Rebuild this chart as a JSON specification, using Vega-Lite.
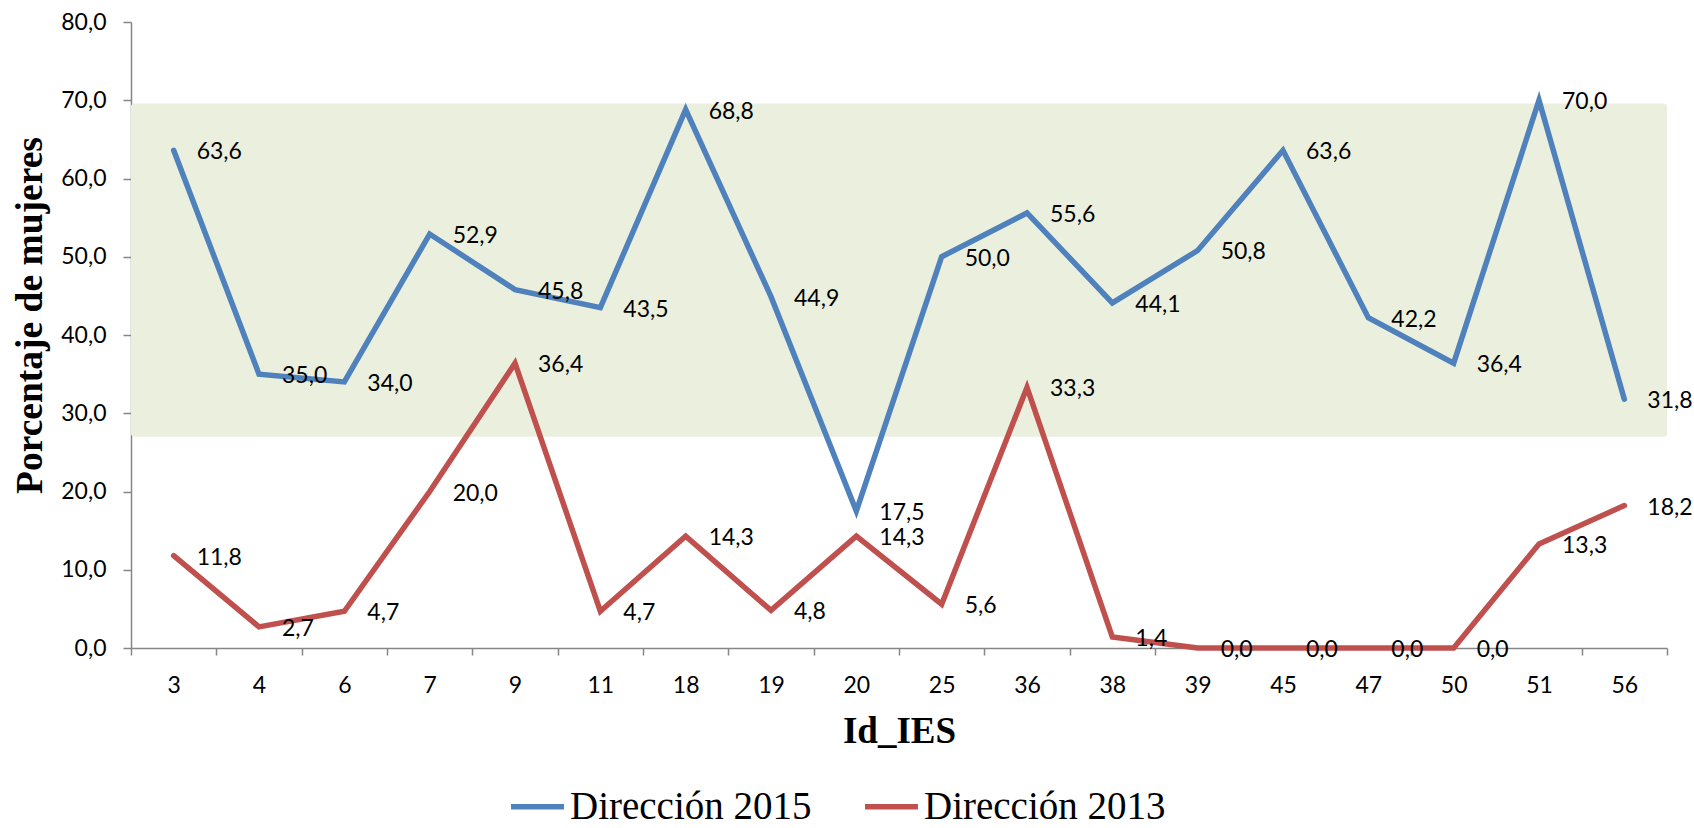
{
  "$schema": "https://vega.github.io/schema/vega-lite/v6.json",
  "width": 1536,
  "height": 626,
  "autosize": {"type": "none"},
  "padding": {"left": 131, "top": 22, "right": 27, "bottom": 180},
  "background": "white",
  "config": {
    "view": {"stroke": null},
    "locale": {"number": {"decimal": ",", "thousands": ".", "grouping": [3], "currency": ["", " €"]}}
  },
  "datasets": {
    "band": [{"lo": 27.0, "hi": 69.6}],
    "vals": [
      {"id": 3, "serie": "Dirección 2015", "pct": 63.6},
      {"id": 4, "serie": "Dirección 2015", "pct": 35.0},
      {"id": 6, "serie": "Dirección 2015", "pct": 34.0},
      {"id": 7, "serie": "Dirección 2015", "pct": 52.9},
      {"id": 9, "serie": "Dirección 2015", "pct": 45.8},
      {"id": 11, "serie": "Dirección 2015", "pct": 43.5},
      {"id": 18, "serie": "Dirección 2015", "pct": 68.8},
      {"id": 19, "serie": "Dirección 2015", "pct": 44.9},
      {"id": 20, "serie": "Dirección 2015", "pct": 17.5},
      {"id": 25, "serie": "Dirección 2015", "pct": 50.0},
      {"id": 36, "serie": "Dirección 2015", "pct": 55.6},
      {"id": 38, "serie": "Dirección 2015", "pct": 44.1},
      {"id": 39, "serie": "Dirección 2015", "pct": 50.8},
      {"id": 45, "serie": "Dirección 2015", "pct": 63.6},
      {"id": 47, "serie": "Dirección 2015", "pct": 42.2},
      {"id": 50, "serie": "Dirección 2015", "pct": 36.4},
      {"id": 51, "serie": "Dirección 2015", "pct": 70.0},
      {"id": 56, "serie": "Dirección 2015", "pct": 31.8},
      {"id": 3, "serie": "Dirección 2013", "pct": 11.8},
      {"id": 4, "serie": "Dirección 2013", "pct": 2.7},
      {"id": 6, "serie": "Dirección 2013", "pct": 4.7},
      {"id": 7, "serie": "Dirección 2013", "pct": 20.0},
      {"id": 9, "serie": "Dirección 2013", "pct": 36.4},
      {"id": 11, "serie": "Dirección 2013", "pct": 4.7},
      {"id": 18, "serie": "Dirección 2013", "pct": 14.3},
      {"id": 19, "serie": "Dirección 2013", "pct": 4.8},
      {"id": 20, "serie": "Dirección 2013", "pct": 14.3},
      {"id": 25, "serie": "Dirección 2013", "pct": 5.6},
      {"id": 36, "serie": "Dirección 2013", "pct": 33.3},
      {"id": 38, "serie": "Dirección 2013", "pct": 1.4},
      {"id": 39, "serie": "Dirección 2013", "pct": 0.0},
      {"id": 45, "serie": "Dirección 2013", "pct": 0.0},
      {"id": 47, "serie": "Dirección 2013", "pct": 0.0},
      {"id": 50, "serie": "Dirección 2013", "pct": 0.0},
      {"id": 51, "serie": "Dirección 2013", "pct": 13.3},
      {"id": 56, "serie": "Dirección 2013", "pct": 18.2}
    ]
  },
  "layer": [
    {
      "data": {"name": "band"},
      "mark": {"type": "rect", "color": "#EBF0DE", "cornerRadius": 3},
      "encoding": {
        "y": {"field": "lo", "type": "quantitative", "scale": {"domain": [0, 80]}},
        "y2": {"field": "hi"}
      }
    },
    {
      "data": {"name": "vals"},
      "layer": [
        {
          "mark": {"type": "line", "strokeWidth": 5.5, "strokeCap": "round", "strokeJoin": "miter"},
          "encoding": {
            "x": {
              "field": "id", "type": "ordinal", "bandPosition": 0.5,
              "scale": {"type": "band", "paddingInner": 0, "paddingOuter": 0},
              "axis": {
                "title": "Id_IES",
                "titleFont": "Liberation Serif", "titleFontSize": 37, "titleFontWeight": "bold", "titleColor": "black",
                "titlePadding": 16,
                "labelFont": "Lato", "labelFontSize": 23, "labelColor": "black", "labelPadding": 19,
                "labelAngle": 0,
                "tickBand": "extent", "tickSize": 7, "tickColor": "#868686", "tickWidth": 1.5,
                "domainColor": "#868686", "domainWidth": 1.5, "grid": false
              }
            },
            "y": {
              "field": "pct", "type": "quantitative",
              "scale": {"domain": [0, 80]},
              "axis": {
                "title": "Porcentaje de mujeres",
                "titleFont": "Liberation Serif", "titleFontSize": 37.5, "titleFontWeight": "bold", "titleColor": "black",
                "titlePadding": 11, "titleY": 293,
                "values": [0, 10, 20, 30, 40, 50, 60, 70, 80],
                "format": ".1f",
                "labelFont": "Lato", "labelFontSize": 23, "labelColor": "black", "labelPadding": 17,
                "tickSize": 8, "tickColor": "#868686", "tickWidth": 1.5,
                "domainColor": "#868686", "domainWidth": 1.5, "grid": false
              }
            },
            "color": {
              "field": "serie", "type": "nominal",
              "scale": {"domain": ["Dirección 2015", "Dirección 2013"], "range": ["#4F81BD", "#C0504D"]},
              "legend": {
                "title": null, "orient": "none", "direction": "horizontal",
                "legendX": 377, "legendY": 755,
                "symbolType": "stroke", "symbolSize": 2800, "symbolStrokeWidth": 5.5,
                "labelFont": "Liberation Serif", "labelFontSize": 39, "labelColor": "black",
                "labelOffset": 3, "columnPadding": 42, "labelLimit": 500
              }
            },
            "detail": {"field": "serie"}
          }
        },
        {
          "mark": {"type": "text", "align": "left", "baseline": "middle", "dx": 23, "dy": 2, "font": "Lato", "fontSize": 23, "color": "black"},
          "encoding": {
            "x": {"field": "id", "type": "ordinal", "bandPosition": 0.5},
            "y": {"field": "pct", "type": "quantitative"},
            "text": {"field": "pct", "type": "quantitative", "format": ".1f"}
          }
        }
      ]
    }
  ]
}
